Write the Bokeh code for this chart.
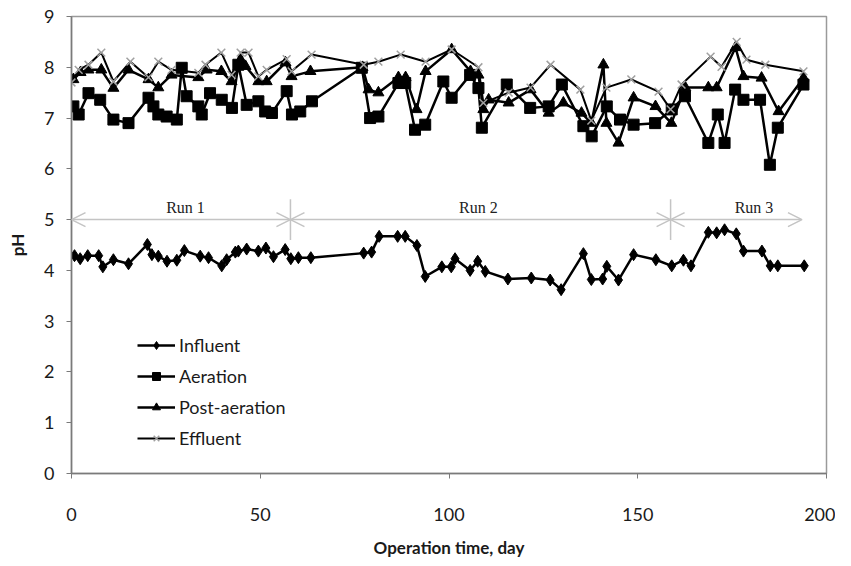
from bokeh.plotting import figure
from bokeh.models import Legend, LegendItem, Arrow, OpenHead, FixedTicker, Range1d
from bokeh.core.properties import value
from bokeh.embed import file_html
from bokeh.resources import INLINE

# ---- data ----
inf_days = [0.8, 2.3, 4.3, 7.2, 8.3, 11.1, 15.1, 20.1, 21.3, 23.0, 25.3, 27.9, 29.9, 34.1, 36.3,
            39.8, 41.1, 43.4, 44.2, 46.4, 49.5, 51.5, 53.5, 56.6, 58.1, 60.1, 63.4, 77.4, 79.5, 81.5,
            86.4, 88.4, 91.5, 93.7, 98.1, 100.6, 101.6, 105.6, 107.6, 109.6, 115.6, 121.8, 126.8, 129.7, 135.6,
            137.7, 140.7, 141.8, 144.9, 148.9, 154.8, 159.0, 162.1, 164.1, 168.7, 170.9, 173.0, 176.1, 178.0, 182.9,
            185.1, 187.1, 194.1]
inf_ph = [4.29, 4.23, 4.29, 4.29, 4.07, 4.21, 4.13, 4.51, 4.31, 4.28, 4.18, 4.20, 4.39, 4.28, 4.25,
          4.09, 4.21, 4.36, 4.38, 4.42, 4.38, 4.44, 4.27, 4.41, 4.23, 4.25, 4.25, 4.34, 4.36, 4.67,
          4.67, 4.67, 4.49, 3.88, 4.07, 4.07, 4.23, 4.00, 4.18, 3.98, 3.83, 3.85, 3.81, 3.62, 4.33,
          3.82, 3.83, 4.08, 3.81, 4.31, 4.21, 4.09, 4.20, 4.09, 4.75, 4.74, 4.80, 4.72, 4.38, 4.38,
          4.09, 4.09, 4.09]

aer_days = [0.5, 1.9, 4.5, 7.6, 11.1, 15.1, 20.4, 21.7, 23.0, 25.2, 27.9, 29.2, 30.5, 33.6, 34.5,
            36.7, 39.8, 42.5, 44.2, 46.4, 49.5, 51.3, 53.1, 57.0, 58.4, 60.6, 63.7, 76.9, 79.1, 81.3,
            86.6, 88.4, 91.0, 93.7, 98.5, 100.7, 105.6, 107.8, 108.7, 115.3, 121.5, 126.4, 129.9, 135.6, 137.8,
            141.8, 145.3, 148.9, 154.6, 159.0, 162.5, 168.7, 171.2, 173.0, 175.8, 178.0, 182.4, 185.0, 187.1, 193.9]
aer_ph = [7.23, 7.07, 7.49, 7.36, 6.97, 6.90, 7.40, 7.23, 7.07, 7.03, 6.97, 7.99, 7.43, 7.23, 7.07,
          7.49, 7.36, 7.20, 8.05, 7.26, 7.33, 7.13, 7.10, 7.53, 7.07, 7.13, 7.33, 7.99, 7.00, 7.03,
          7.69, 7.69, 6.77, 6.87, 7.72, 7.40, 7.85, 7.59, 6.81, 7.66, 7.20, 7.23, 7.66, 6.84, 6.64,
          7.23, 6.97, 6.87, 6.90, 7.17, 7.43, 6.51, 7.07, 6.51, 7.56, 7.36, 7.36, 6.08, 6.81, 7.66]

post_days = [0.5, 2.4, 4.5, 7.9, 11.1, 15.1, 20.4, 23.0, 26.5, 33.6, 35.8, 39.7, 42.4, 44.8, 46.1,
             49.5, 51.7, 56.7, 58.3, 63.3, 77.1, 78.7, 81.3, 86.6, 88.5, 91.4, 93.8, 100.7, 105.7, 107.8,
             109.1, 110.5, 115.8, 121.6, 126.4, 130.3, 135.1, 137.7, 140.9, 141.7, 144.9, 148.9, 154.7, 158.9, 162.6,
             168.7, 170.9, 175.9, 178.0, 182.8, 187.3, 193.9]
post_ph = [7.76, 7.90, 7.95, 7.95, 7.59, 7.95, 7.76, 7.60, 7.85, 7.80, 7.95, 7.92, 7.72, 8.15, 8.02,
           7.72, 7.72, 8.09, 7.82, 7.92, 8.00, 7.56, 7.50, 7.80, 7.80, 7.17, 7.92, 8.35, 7.92, 7.85,
           7.17, 7.36, 7.30, 7.56, 7.10, 7.30, 7.10, 6.90, 8.05, 6.90, 6.51, 7.40, 7.23, 6.90, 7.60,
           7.60, 7.60, 8.39, 7.82, 7.79, 7.13, 7.79]

eff_days = [0.0, 1.9, 4.5, 7.9, 11.1, 15.6, 20.4, 23.0, 26.5, 33.6, 35.5, 39.7, 42.4, 44.8, 46.9,
            49.5, 51.7, 57.0, 58.3, 63.6, 77.4, 81.3, 87.2, 93.8, 100.7, 107.8, 109.1, 115.8, 121.6, 126.9,
            134.8, 137.7, 141.7, 148.3, 155.5, 158.7, 161.6, 169.3, 172.2, 176.2, 178.8, 183.8, 193.9]
eff_ph = [7.70, 7.95, 8.05, 8.29, 7.72, 8.11, 7.80, 8.11, 7.95, 7.89, 8.05, 8.29, 7.85, 8.29, 8.29,
          7.82, 7.95, 8.16, 7.92, 8.25, 8.05, 8.11, 8.25, 8.11, 8.35, 8.00, 7.30, 7.50, 7.60, 8.05,
          7.56, 6.95, 7.60, 7.76, 7.52, 7.17, 7.66, 8.21, 8.01, 8.50, 8.15, 8.05, 7.92]

series_names = ["Influent", "Aeration", "Post-aeration", "Effluent"]

run_bounds = [0, 58, 158.7, 193.5]
run_level = 5.0
run_sep_low, run_sep_high = 4.6, 5.4
run_labels = ["Run 1", "Run 2", "Run 3"]
run_label_x = [30.2, 107.8, 180.8]
run_label_y = 5.07

x_ticks = [0, 50, 100, 150, 200]
y_ticks = [0, 1, 2, 3, 4, 5, 6, 7, 8, 9]

# ---- figure ----
FONT = "Lato"
p = figure(width=835, height=550, frame_width=755, frame_height=457,
           x_range=Range1d(0, 200), y_range=Range1d(0, 9),
           output_backend="svg", toolbar_location=None,
           min_border_left=71, min_border_right=9, min_border_top=16, min_border_bottom=77)
p.background_fill_color = "white"
p.border_fill_color = "white"
p.outline_line_color = "#9a9a9a"
p.outline_line_width = 1.5
p.xgrid.visible = False
p.ygrid.visible = False

for ax in (p.xaxis[0], p.yaxis[0]):
    ax.axis_line_color = "#7a7a7a"
    ax.axis_line_width = 1.5
    ax.major_tick_line_color = "#7a7a7a"
    ax.major_tick_in = 0
    ax.major_tick_out = 5
    ax.minor_tick_line_color = None
    ax.major_label_text_font = FONT
    ax.major_label_text_font_size = "18px"
    ax.major_label_text_color = "#1a1a1a"
    ax.axis_label_text_font = FONT
    ax.axis_label_text_font_size = "17px"
    ax.axis_label_text_font_style = "bold"
    ax.axis_label_text_color = "#1a1a1a"

p.xaxis.ticker = FixedTicker(ticks=x_ticks)
p.yaxis.ticker = FixedTicker(ticks=y_ticks)
p.xaxis.major_label_standoff = 29
p.xaxis.axis_label_standoff = 13
p.yaxis.major_label_standoff = 12
p.yaxis.axis_label_standoff = 13
p.xaxis.axis_label = "Operation time, day"
p.yaxis.axis_label = "pH"

# run annotations
for i in range(3):
    p.add_layout(Arrow(x_start=run_bounds[i], x_end=run_bounds[i + 1],
                       y_start=run_level, y_end=run_level,
                       line_color="#c4c4c4", line_width=1.5,
                       start=OpenHead(size=14, line_color="#c4c4c4", line_width=1.5),
                       end=OpenHead(size=14, line_color="#c4c4c4", line_width=1.5)))
p.segment(x0=run_bounds[1:3], y0=[run_sep_low] * 2, x1=run_bounds[1:3], y1=[run_sep_high] * 2,
          line_color="#c4c4c4", line_width=1.5)
p.text(x=run_label_x, y=[run_label_y] * 3, text=run_labels,
       text_font=value("Liberation Serif"), text_font_size="16px",
       text_align="center", text_baseline="bottom", text_color="#222222")

# series
items = []
l1 = p.line(inf_days, inf_ph, line_color="black", line_width=2.5)
m1 = p.scatter(inf_days, inf_ph, marker="diamond", size=12, fill_color="black", line_color="black")
items.append(LegendItem(label=series_names[0], renderers=[l1, m1]))

l2 = p.line(aer_days, aer_ph, line_color="black", line_width=2.5)
m2 = p.scatter(aer_days, aer_ph, marker="square", size=11, fill_color="black", line_color="black")
items.append(LegendItem(label=series_names[1], renderers=[l2, m2]))

l3 = p.line(post_days, post_ph, line_color="black", line_width=2.5)
m3 = p.scatter(post_days, post_ph, marker="triangle", size=11, fill_color="black", line_color="black")
items.append(LegendItem(label=series_names[2], renderers=[l3, m3]))

l4 = p.line(eff_days, eff_ph, line_color="black", line_width=2)
m4 = p.scatter(eff_days, eff_ph, marker="x", size=11, line_color="#a0a0a0", line_width=1.5)
items.append(LegendItem(label=series_names[3], renderers=[l4, m4]))

legend = Legend(items=items, location=(66, 24), orientation="vertical",
                glyph_width=38, glyph_height=20, label_standoff=4, spacing=9,
                padding=0, margin=0, border_line_color=None, background_fill_alpha=0,
                label_text_font=FONT, label_text_font_size="18px", label_text_color="#1a1a1a",
                label_height=20)
p.add_layout(legend, "center")

open("out.html", "w").write(file_html(p, INLINE))
